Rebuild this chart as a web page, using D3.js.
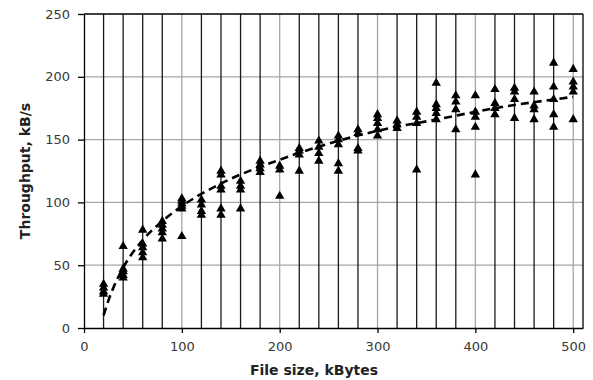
<!DOCTYPE html>
<html>
<head>
<meta charset="utf-8">
<script src="https://cdn.jsdelivr.net/npm/d3@7"></script>
<style>
  body { margin: 0; background: #fff; }
  text { font-family: "DejaVu Sans", Verdana, sans-serif; }
</style>
</head>
<body>
<div id="viz"></div>
<script>
// file sizes (kBytes) where measurements were taken
const fileSizes = [20, 40, 60, 80, 100, 120, 140, 160, 180, 200, 220, 240, 260,
  280, 300, 320, 340, 360, 380, 400, 420, 440, 460, 480, 500];

// measured throughput (kB/s) for each file size
const throughput = [
  [35, 32, 29, 27],
  [65, 47, 45, 42, 40],
  [78, 67, 64, 60, 56],
  [85, 82, 79, 76, 71],
  [103, 101, 99, 97, 95, 73],
  [102, 98, 93, 90],
  [125, 122, 113, 110, 95, 90],
  [117, 113, 110, 95],
  [133, 130, 127, 124],
  [129, 126, 105],
  [143, 141, 138, 125],
  [149, 144, 139, 133],
  [153, 150, 146, 131, 125],
  [158, 155, 143, 141],
  [170, 167, 163, 158, 153],
  [165, 162, 159],
  [172, 168, 163, 126],
  [195, 178, 175, 171, 166],
  [185, 180, 174, 158],
  [185, 172, 168, 160, 122],
  [190, 179, 175, 170],
  [191, 188, 182, 167],
  [188, 177, 174, 166],
  [211, 192, 182, 170, 160],
  [206, 196, 192, 188, 166]
];

// dashed trend line
const trendX = [20, 25, 30, 40, 60, 80, 100, 140, 200, 260, 300, 360, 420, 500];
const trendY = [10, 22, 32, 48, 70, 85, 97, 115, 134, 149, 157, 166, 175, 184];

const xTicks = [0, 100, 200, 300, 400, 500];
const yTicks = [0, 50, 100, 150, 200, 250];

const svg = d3.select('#viz')
  .append('svg')
  .attr('width', 593)
  .attr('height', 380);

const x = d3.scaleLinear().domain([0, 510]).range([84, 583]);
const y = d3.scaleLinear().domain([0, 250]).range([328, 14]);

// gray major gridlines
svg.append('g')
  .selectAll('line')
  .data(yTicks.filter(d => d > 0 && d < 250))
  .enter()
  .append('line')
  .attr('x1', x(0)).attr('x2', x(510))
  .attr('y1', d => y(d)).attr('y2', d => y(d))
  .attr('stroke', '#a6a6a6')
  .attr('stroke-width', 1.3);

svg.append('g')
  .selectAll('line')
  .data(xTicks.filter(d => d > 0))
  .enter()
  .append('line')
  .attr('x1', d => x(d)).attr('x2', d => x(d))
  .attr('y1', y(0)).attr('y2', y(250))
  .attr('stroke', '#a6a6a6')
  .attr('stroke-width', 1.3);

// black vertical lines at each file size
svg.append('g')
  .selectAll('line')
  .data(fileSizes.filter(d => d % 100 !== 0))
  .enter()
  .append('line')
  .attr('x1', d => x(d)).attr('x2', d => x(d))
  .attr('y1', y(0)).attr('y2', y(250))
  .attr('stroke', '#1a1a1a')
  .attr('stroke-width', 1.3);

// frame top and right
svg.append('line')
  .attr('x1', x(0)).attr('x2', x(510))
  .attr('y1', y(250)).attr('y2', y(250))
  .attr('stroke', '#000').attr('stroke-width', 1.3);
svg.append('line')
  .attr('x1', x(510)).attr('x2', x(510))
  .attr('y1', y(0)).attr('y2', y(250))
  .attr('stroke', '#000').attr('stroke-width', 1.3);

// axes
const xAxis = d3.axisBottom(x).tickValues(xTicks).tickSize(5).tickSizeOuter(0).tickPadding(9);
const yAxis = d3.axisLeft(y).tickValues(yTicks).tickSize(6).tickSizeOuter(0).tickPadding(8);

const gx = svg.append('g').attr('transform', `translate(0,${y(0)})`).call(xAxis);
const gy = svg.append('g').attr('transform', `translate(${x(0)},0)`).call(yAxis);

[gx, gy].forEach(g => {
  g.select('.domain').attr('stroke', '#000').attr('stroke-width', 1.3);
  g.selectAll('.tick line').attr('stroke', '#000').attr('stroke-width', 1.3);
  g.selectAll('.tick text')
    .attr('fill', '#383838')
    .style('font-size', '13px')
    .style('font-family', '"DejaVu Sans", Verdana, sans-serif');
});

// trend line
const points = trendX.map((d, i) => [d, trendY[i]]);
const line = d3.line()
  .x(d => x(d[0]))
  .y(d => y(d[1]))
  .curve(d3.curveMonotoneX);

svg.append('path')
  .datum(points)
  .attr('d', line)
  .attr('fill', 'none')
  .attr('stroke', '#000')
  .attr('stroke-width', 2.6)
  .attr('stroke-dasharray', '8,5');

// markers
const flat = [];
fileSizes.forEach((fs, i) => throughput[i].forEach(v => flat.push({ fs, v })));

svg.append('g')
  .selectAll('path')
  .data(flat)
  .enter()
  .append('path')
  .attr('d', d3.symbol(d3.symbolTriangle, 38))
  .attr('transform', d => `translate(${x(d.fs)},${y(d.v)})`)
  .attr('fill', '#000');

// axis titles
svg.append('text')
  .attr('x', 314)
  .attr('y', 375)
  .attr('text-anchor', 'middle')
  .style('font-size', '14px')
  .style('font-weight', 'bold')
  .attr('fill', '#222')
  .text('File size, kBytes');

svg.append('text')
  .attr('transform', 'translate(30,171) rotate(-90)')
  .attr('text-anchor', 'middle')
  .style('font-size', '14px')
  .style('font-weight', 'bold')
  .attr('fill', '#222')
  .text('Throughput, kB/s');
</script>
</body>
</html>
